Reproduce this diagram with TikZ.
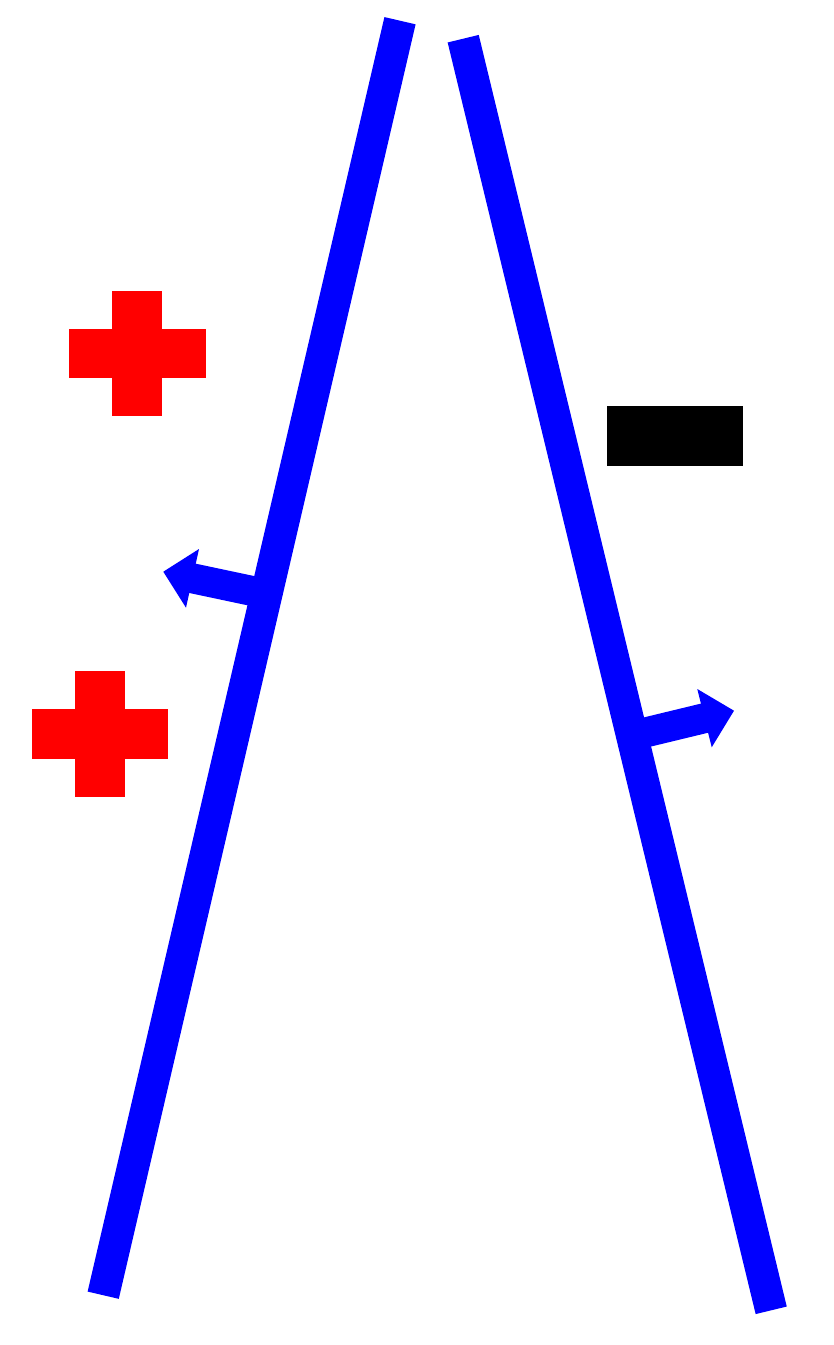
\documentclass[tikz,border=0pt]{standalone}
\begin{document}
\begin{tikzpicture}[x=1pt,y=-1pt,
  rod/.style={draw=blue,line width=32pt,line cap=butt},
  shaft/.style={draw=blue,line width=30pt,line cap=butt},
  head/.style={fill=blue},
  plusbar/.style={fill=red},
  minusbar/.style={fill=black}]
\useasboundingbox (0,0) rectangle (834,1345);
% plates
\coordinate (LT) at (400,20.7);
\coordinate (LB) at (103.2,1295.2);
\coordinate (RT) at (463.2,38.7);
\coordinate (RB) at (771.2,1310.3);
\draw[rod] (LB) -- (LT);
\draw[rod] (RT) -- (RB);
% left arrow
\coordinate (LS) at (266.5,594);
\coordinate (LH) at (191,578);
\draw[shaft] (LS) -- (LH);
\fill[head] (199,549) -- (163.3,571.7) -- (186,607.7) -- cycle;
% right arrow
\coordinate (RS) at (632,735.7);
\coordinate (RH) at (706,717.8);
\draw[shaft] (RS) -- (RH);
\fill[head] (697.3,689) -- (734,710.7) -- (711.7,747.3) -- cycle;
% plus signs
\fill[plusbar] (112.3,291) rectangle (161.7,416.3);
\fill[plusbar] (69,329) rectangle (205.7,378.3);
\fill[plusbar] (75.3,671.3) rectangle (125,797.3);
\fill[plusbar] (31.7,709.3) rectangle (168.3,759.3);
% minus sign
\fill[minusbar] (607.3,406.3) rectangle (742.7,466.3);
\end{tikzpicture}
\end{document}
